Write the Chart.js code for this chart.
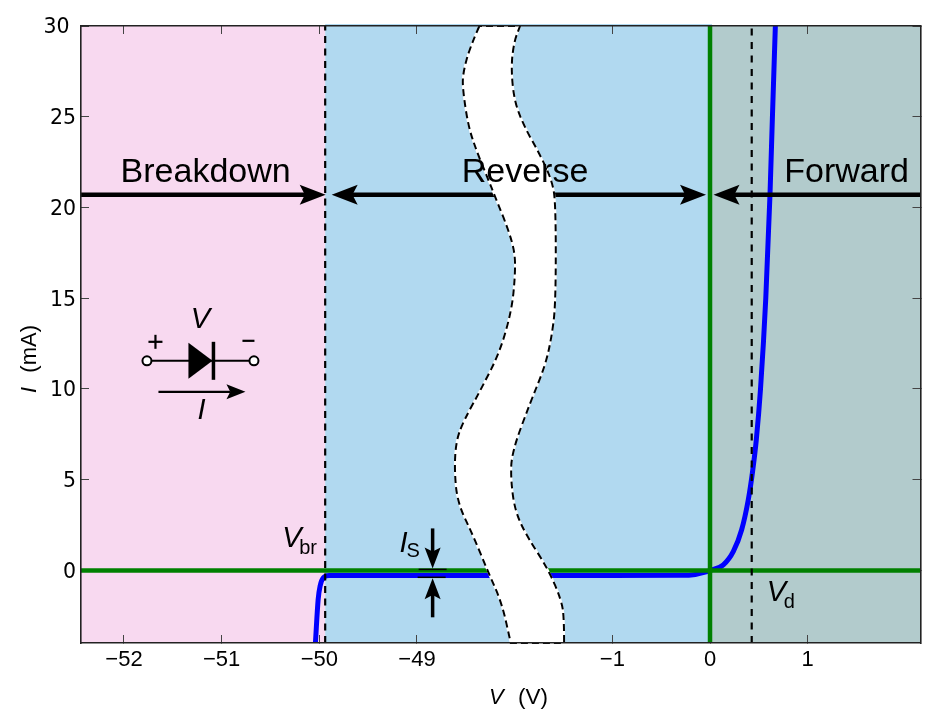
<!DOCTYPE html>
<html>
<head>
<meta charset="utf-8">
<title>Diode I-V curve</title>
<script src="https://cdn.jsdelivr.net/npm/chart.js@4"></script>
<style>
    html, body { margin: 0; padding: 0; background: #ffffff; }
    canvas { display: block; }
</style>
</head>
<body>
<canvas id="diodeChart" width="941" height="720"></canvas>
<script>
// The voltage axis is broken, so everything is plotted on an evenly spaced axis position
// and the labels below say which voltage each position stands for.
const axisMin = -6.44;
const axisMax = 2.155;
const currentMin = -4;
const currentMax = 30;

const xTickPositions = [-6, -5, -4, -3, -1, 0, 1];
const xTickLabels = ['−52', '−51', '−50', '−49', '−1', '0', '1'];
const yTicks = [0, 5, 10, 15, 20, 25, 30];
const yTickLabels = ['0', '5', '10', '15', '20', '25', '30\u00a0'];

const curvePositions = [-4.04, -4.012, -3.992, -3.958, -3.9, -3, -1, -0.3, -0.15, -0.05, 0,
    0.136, 0.239, 0.324, 0.392, 0.437, 0.474, 0.517, 0.571, 0.614, 0.639, 0.669];
const curveCurrents = [-4, -1.6, -0.86, -0.4, -0.28, -0.28, -0.28, -0.27, -0.22, -0.1, 0,
    0.31, 1.05, 2.24, 3.9, 5.5, 7.2, 10, 15, 20.7, 25, 30];

const breakdownVoltagePosition = -3.94;
const diodeDropPosition = 0.427;
const arrowCurrent = 20.7;

// white band hiding the axis break, [position, current] from top to bottom
const breakLeftEdge = [[-2.361, 30], [-2.456, 28.86], [-2.531, 27.39], [-2.531, 26.47], [-2.474, 24.45],
    [-2.388, 23.08], [-2.269, 21.52], [-2.201, 20.6], [-2.064, 18.77], [-1.996, 17.48], [-1.996, 16.2],
    [-2.03, 14.36], [-2.149, 12.07], [-2.337, 10.06], [-2.525, 8.22], [-2.6, 7.12], [-2.617, 5.56],
    [-2.586, 3.73], [-2.423, 1.89], [-2.269, -0.13], [-2.132, -1.78], [-2.04, -4]];
const breakRightEdge = [[-1.945, 30], [-2.006, 29.13], [-2.037, 27.75], [-2.006, 25.92], [-1.911, 24.55],
    [-1.74, 22.9], [-1.62, 21.52], [-1.579, 20.25], [-1.579, 14.75], [-1.62, 12.89], [-1.689, 11.24],
    [-1.842, 9.23], [-2.03, 6.49], [-2.04, 5.01], [-1.996, 3.26], [-1.876, 1.89], [-1.655, 0.06],
    [-1.518, -1.69], [-1.494, -2.7], [-1.494, -4]];

const FONT = '"Liberation Sans", Arial, sans-serif';
const PINK = '#f8d9f0';
const BLUE = '#b1d9f0';
const FOREST = '#b2cbcc';

function text(ctx, str, x, y, size, italic, align) {
    ctx.font = (italic ? 'italic ' : '') + size + 'px ' + FONT;
    ctx.textAlign = align || 'left';
    ctx.textBaseline = 'alphabetic';
    ctx.fillStyle = '#000000';
    ctx.fillText(str, x, y);
}

function line(ctx, x1, y1, x2, y2, width) {
    ctx.lineWidth = width;
    ctx.beginPath();
    ctx.moveTo(x1, y1);
    ctx.lineTo(x2, y2);
    ctx.stroke();
}

// notched arrow head, tip at (x, y), pointing along (dx, dy)
function arrowHead(ctx, x, y, dx, dy, len, half) {
    ctx.beginPath();
    ctx.moveTo(x, y);
    ctx.lineTo(x - dx * len - dy * half, y - dy * len - dx * half);
    ctx.lineTo(x - dx * len * 0.8, y - dy * len * 0.8);
    ctx.lineTo(x - dx * len + dy * half, y - dy * len + dx * half);
    ctx.closePath();
    ctx.fill();
}

function edgePath(ctx, pts, start) {
    if (start) ctx.moveTo(pts[0][0], pts[0][1]);
    else ctx.lineTo(pts[0][0], pts[0][1]);
    for (let i = 1; i < pts.length - 1; i++) {
        const mx = (pts[i][0] + pts[i + 1][0]) / 2;
        const my = (pts[i][1] + pts[i + 1][1]) / 2;
        ctx.quadraticCurveTo(pts[i][0], pts[i][1], mx, my);
    }
    ctx.lineTo(pts[pts.length - 1][0], pts[pts.length - 1][1]);
}

const regionPlugin = {
    id: 'regions',
    beforeDraw(chart) {
        const { ctx, chartArea: a, scales: { x } } = chart;
        const vbr = x.getPixelForValue(breakdownVoltagePosition);
        const zero = x.getPixelForValue(0);
        ctx.save();
        ctx.fillStyle = PINK;
        ctx.fillRect(a.left, a.top, vbr - a.left, a.bottom - a.top);
        ctx.fillStyle = BLUE;
        ctx.fillRect(vbr, a.top - 2, zero + 2 - vbr, a.bottom - a.top + 2);
        ctx.fillStyle = FOREST;
        ctx.fillRect(zero, a.top, a.right - zero, a.bottom - a.top);
        ctx.restore();
    }
};

const annotationPlugin = {
    id: 'annotations',
    afterDatasetsDraw(chart) {
        const { ctx, chartArea: a, scales: { x, y } } = chart;
        const vbr = x.getPixelForValue(breakdownVoltagePosition);
        const zero = x.getPixelForValue(0);
        const ay = y.getPixelForValue(arrowCurrent);
        ctx.save();
        ctx.strokeStyle = '#000000';
        ctx.fillStyle = '#000000';

        // region arrows
        line(ctx, a.left, ay, vbr - 20, ay, 4.5);
        arrowHead(ctx, vbr + 0.5, ay, 1, 0, 26, 10);
        line(ctx, vbr + 26, ay, zero - 24, ay, 4.5);
        arrowHead(ctx, vbr + 6.5, ay, -1, 0, 26, 10);
        arrowHead(ctx, zero - 4, ay, 1, 0, 26, 10);
        line(ctx, zero + 24, ay, a.right, ay, 4.5);
        arrowHead(ctx, zero + 3.5, ay, -1, 0, 26, 10);

        // axis break
        const left = breakLeftEdge.map(p => [x.getPixelForValue(p[0]), y.getPixelForValue(p[1])]);
        const right = breakRightEdge.map(p => [x.getPixelForValue(p[0]), y.getPixelForValue(p[1])]).reverse();
        ctx.beginPath();
        edgePath(ctx, left, true);
        edgePath(ctx, right, false);
        ctx.closePath();
        ctx.fillStyle = '#ffffff';
        ctx.fill();
        ctx.strokeStyle = '#ffffff';
        ctx.lineWidth = 2;
        ctx.stroke();
        ctx.strokeStyle = '#000000';
        ctx.setLineDash([7, 4]);
        ctx.stroke();
        ctx.setLineDash([]);
        ctx.fillStyle = '#000000';

        // region names
        const nameY = y.getPixelForValue(21.4);
        text(ctx, 'Breakdown', x.getPixelForValue(-5.164), nameY, 34, false, 'center');
        text(ctx, 'Reverse', x.getPixelForValue(-1.894), nameY, 34, false, 'center');
        text(ctx, 'Forward', x.getPixelForValue(1.399), nameY, 34, false, 'center');

        // Vbr and Vd
        text(ctx, 'V', vbr - 43, y.getPixelForValue(1.27), 29, true);
        text(ctx, 'br', vbr - 26, y.getPixelForValue(0.93), 20, false);
        const vd = x.getPixelForValue(diodeDropPosition);
        text(ctx, 'V', vd + 15, y.getPixelForValue(-1.68), 29, true);
        text(ctx, 'd', vd + 32, y.getPixelForValue(-2.05), 20, false);

        // saturation current marker
        const sx = x.getPixelForValue(-2.84);
        const y0 = y.getPixelForValue(0);
        const yS = y.getPixelForValue(-0.38);
        line(ctx, sx, y0 - 42, sx, y0 - 16, 3.5);
        arrowHead(ctx, sx, y0 - 2, 0, 1, 21, 8);
        line(ctx, sx, yS + 40, sx, yS + 16, 3.5);
        arrowHead(ctx, sx, yS + 1, 0, -1, 21, 8);
        line(ctx, sx - 14, y0 - 1, sx + 14, y0 - 1, 1.5);
        line(ctx, sx - 15, yS, sx + 13, yS, 1.5);
        text(ctx, 'I', sx - 33, y0 - 18, 29, true);
        text(ctx, 'S', sx - 26, y0 - 13, 20, false);

        // diode symbol
        const dx = x.getPixelForValue(-5.217);
        const dy = y.getPixelForValue(11.55);
        line(ctx, dx - 49, dy, dx + 49, dy, 2);
        ctx.beginPath();
        ctx.moveTo(dx - 12, dy - 18);
        ctx.lineTo(dx + 12, dy);
        ctx.lineTo(dx - 12, dy + 18);
        ctx.closePath();
        ctx.fill();
        line(ctx, dx + 13, dy - 19, dx + 13, dy + 19, 3.5);
        ctx.fillStyle = '#ffffff';
        for (const cx of [dx - 53.5, dx + 53.5]) {
            ctx.beginPath();
            ctx.arc(cx, dy, 4.5, 0, Math.PI * 2);
            ctx.fill();
            ctx.lineWidth = 2;
            ctx.stroke();
        }
        ctx.fillStyle = '#000000';
        line(ctx, dx - 52, dy - 19, dx - 38, dy - 19, 2.2);
        line(ctx, dx - 45, dy - 26, dx - 45, dy - 12, 2.2);
        line(ctx, dx + 42, dy - 20, dx + 54, dy - 20, 2.2);
        text(ctx, 'V', dx, dy - 33, 29, true, 'center');
        line(ctx, dx - 42, dy + 31, dx + 30, dy + 31, 2.2);
        arrowHead(ctx, dx + 45, dy + 31, 1, 0, 19, 7.5);
        text(ctx, 'I', dx + 1, dy + 58, 29, true, 'center');

        // axis titles
        const titleY = 703.5;
        const tx = 489;
        text(ctx, 'V', tx, titleY, 22, true);
        text(ctx, '(V)', tx + 29, titleY, 22.5, false);
        ctx.translate(35.5, 358);
        ctx.rotate(-Math.PI / 2);
        text(ctx, 'I', -35, 0, 22, true);
        text(ctx, '(mA)', -14.7, 0, 22, false);
        ctx.restore();
    }
};

// fixed axis sizes so the plot box sits where it should, ticks point inward
function fixedSize(size) {
    return function (scale) {
        if (scale.isHorizontal()) scale.height = size;
        else scale.width = size;
        scale.paddingLeft = scale.paddingRight = scale.paddingTop = scale.paddingBottom = 0;
    };
}

function axisBase(ticksList, size, min, max, position) {
    return {
        type: 'linear',
        position: position,
        min: min,
        max: max,
        afterBuildTicks: scale => { scale.ticks = ticksList.map(v => ({ value: v })); },
        afterFit: fixedSize(size),
        grid: {
            drawOnChartArea: false,
            tickLength: -8,
            tickWidth: 1,
            tickColor: '#444444'
        },
        border: { display: true, color: '#222222', width: 1.6, z: 1 },
        ticks: { display: false }
    };
}

const xAxis = axisBase(xTickPositions, 77, axisMin, axisMax, 'bottom');
xAxis.ticks = {
    display: true,
    color: '#000000',
    padding: 12,
    maxRotation: 0,
    autoSkip: false,
    font: { family: FONT, size: 22 },
    callback: value => xTickLabels[xTickPositions.indexOf(value)]
};

const yAxis = axisBase(yTicks, 81, currentMin, currentMax, 'left');
yAxis.ticks = {
    display: true,
    color: '#000000',
    padding: 13,
    autoSkip: false,
    // empty first line with a small line height nudges the label down a little
    font: { family: '"DejaVu Sans"', size: 20.5, lineHeight: 0.2 },
    callback: value => ['', yTickLabels[yTicks.indexOf(value)]]
};

new Chart(document.getElementById('diodeChart'), {
    type: 'scatter',
    data: {
        datasets: [{
            label: 'Vbr',
            data: [{ x: breakdownVoltagePosition, y: currentMin }, { x: breakdownVoltagePosition, y: currentMax }],
            showLine: true,
            borderColor: '#000000',
            borderWidth: 2.2,
            borderDash: [7, 5.5],
            pointRadius: 0
        }, {
            label: 'Vd',
            data: [{ x: diodeDropPosition, y: currentMin }, { x: diodeDropPosition, y: currentMax }],
            showLine: true,
            borderColor: '#000000',
            borderWidth: 2.2,
            borderDash: [7, 6.5],
            pointRadius: 0
        }, {
            label: 'V axis',
            data: [{ x: axisMin, y: 0 }, { x: axisMax, y: 0 }],
            showLine: true,
            borderColor: '#008000',
            borderWidth: 4.5,
            pointRadius: 0
        }, {
            label: 'I axis',
            data: [{ x: 0, y: currentMin }, { x: 0, y: currentMax }],
            showLine: true,
            borderColor: '#008000',
            borderWidth: 4.5,
            pointRadius: 0
        }, {
            label: 'I(V)',
            data: curvePositions.map((p, i) => ({ x: p, y: curveCurrents[i] })),
            showLine: true,
            borderColor: '#0000ff',
            borderWidth: 5,
            cubicInterpolationMode: 'monotone',
            pointRadius: 0
        }]
    },
    options: {
        responsive: false,
        animation: false,
        layout: { padding: { top: 26, right: 20.5, left: 0, bottom: 0 } },
        plugins: { legend: { display: false }, tooltip: { enabled: false } },
        scales: {
            x: xAxis,
            y: yAxis,
            xTop: axisBase(xTickPositions, 0, axisMin, axisMax, 'top'),
            yRight: axisBase(yTicks, 0, currentMin, currentMax, 'right')
        }
    },
    plugins: [regionPlugin, annotationPlugin]
});
</script>
</body>
</html>
